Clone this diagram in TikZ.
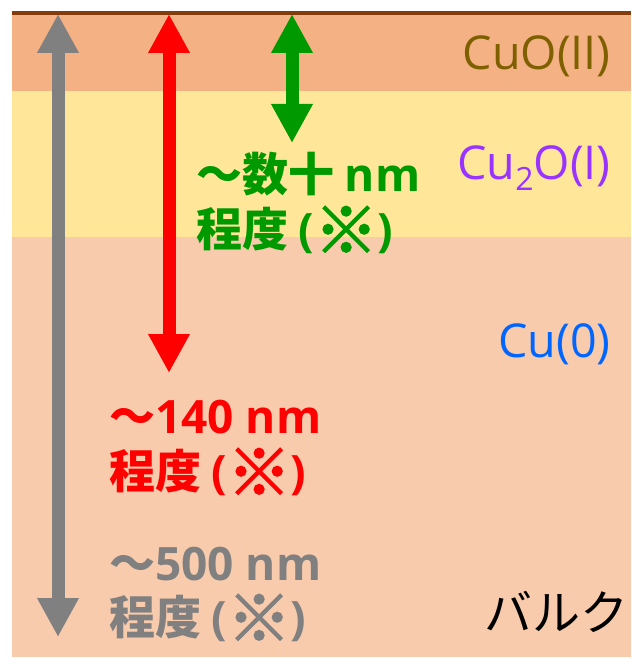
\documentclass[tikz,border=0pt]{standalone}
\usepackage{fontspec}
\usetikzlibrary{arrows.meta}
\newfontfamily\jp{Noto Sans CJK JP}
\newfontfamily\lat{Open Sans}
\newfontfamily\markf{Noto Sans CJK JP}[FakeBold=2.5]
\newcommand\refmark{{\lat\bfseries(}\raisebox{-0.16em}{\markf\scalebox{1.38}{※}}{\lat\bfseries)}}
\definecolor{cuoband}{HTML}{F4B183}
\definecolor{cutwoband}{HTML}{FFE699}
\definecolor{bulkband}{HTML}{F8CBAD}
\definecolor{topline}{HTML}{843C0C}
\definecolor{cuotext}{HTML}{7F6000}
\definecolor{cutwotext}{HTML}{9933FF}
\definecolor{cutext}{HTML}{0066FF}
\definecolor{arrgray}{HTML}{808080}
\definecolor{arrred}{HTML}{FF0000}
\definecolor{arrgreen}{HTML}{009900}
\tikzset{
  deptharrow/.style={line width=9.75pt, {Triangle[width=29.25pt,length=29.25pt]}-{Triangle[width=29.25pt,length=29.25pt]}},
  boldlabel/.style={anchor=base west, inner sep=0pt, font=\jp\bfseries\fontsize{34.5pt}{34.5pt}\selectfont},
  layerlabel/.style={anchor=base east, inner sep=0pt, font=\lat\fontsize{35pt}{35pt}\selectfont}
}
\begin{document}
\begin{tikzpicture}[x=0.75pt,y=-0.75pt]
\useasboundingbox (0,0) rectangle (631,659);
\fill[white] (0,0) rectangle (631,659);
\fill[bulkband] (12,237) rectangle (631,657);
\fill[cutwoband] (12,91) rectangle (631,237);
\fill[cuoband] (12,14) rectangle (631,91);
\fill[topline] (12,11) rectangle (631,15);
% arrows
\coordinate (gtop) at (58,14);
\coordinate (gbot) at (58,637);
\coordinate (rtop) at (169,14);
\coordinate (rbot) at (169,373);
\coordinate (ntop) at (292,14);
\coordinate (nbot) at (292,143);
\draw[deptharrow, arrgray] (gtop) -- (gbot);
\draw[deptharrow, arrred] (rtop) -- (rbot);
\draw[deptharrow, arrgreen] (ntop) -- (nbot);
% depth labels
\node[boldlabel, text=arrgreen] (g1) at (196,192) {～数十 {\lat\bfseries nm}};
\node[boldlabel, text=arrgreen] (g2) at (196,246) {程度 \refmark};
\node[boldlabel, text=arrred] (r1) at (109,433) {～{\lat\bfseries 140 nm}};
\node[boldlabel, text=arrred] (r2) at (109,488) {程度 \refmark};
\node[boldlabel, text=arrgray] (k1) at (109,580) {～{\lat\bfseries 500 nm}};
\node[boldlabel, text=arrgray] (k2) at (109,634) {程度 \refmark};
% layer labels
\node[layerlabel, text=cuotext] (cuo) at (611,70) {CuO(II)};
\node[layerlabel, text=cutwotext] (cutwo) at (611,180) {Cu\raisebox{-0.22em}{\fontsize{24pt}{24pt}\selectfont 2}O(I)};
\node[layerlabel, text=cutext] (cu) at (611,357) {Cu(0)};
\node[layerlabel, text=black, font=\jp\fontsize{36pt}{36pt}\selectfont] (bulk) at (629,630) {バルク};
\end{tikzpicture}
\end{document}
